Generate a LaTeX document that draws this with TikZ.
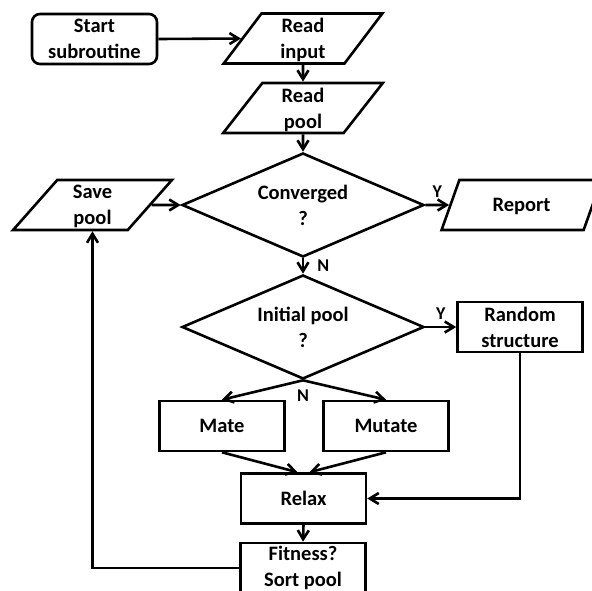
\documentclass[tikz,border=0pt]{standalone}
\usepackage{fontspec}
\setmainfont{Carlito}
\usepackage{tikz}
\usetikzlibrary{positioning,shapes.geometric,arrows.meta,calc}
\tikzset{
    base/.style={
        draw,
        line width=2.6pt,
        align=center,
        inner sep=0pt,
        font=\bfseries\fontsize{20.5}{26}\selectfont
    },
    block/.style={base, rectangle, minimum width=125pt, minimum height=50pt},
    startbox/.style={block, rounded corners=8pt},
    io/.style={
        base,
        trapezium,
        trapezium stretches=true,
        trapezium left angle=58,
        trapezium right angle=122,
        minimum width=160pt,
        minimum height=50pt,
        text depth=0pt
    },
    decision/.style={base, diamond, shape aspect=2.33, minimum width=242pt, minimum height=104pt, text depth=0pt},
    arrow/.style={line width=2.6pt, -{Straight Barb[length=9pt,width=11pt]}},
    lab/.style={font=\bfseries\fontsize{18}{20}\selectfont, inner sep=1pt}
}

\begin{document}
\begin{tikzpicture}[x=1pt, y=-1pt]
    \useasboundingbox (0,0) rectangle (592,590);

    % Nodi
    \node[startbox] (start) at (94.5,39) {Start\\subroutine};
    \node[io, trapezium left angle=63, trapezium right angle=117] (readin) at (303,38.5) {Read\\input};
    \node[io, trapezium left angle=63, trapezium right angle=117] (readpool) at (303,108) {Read\\pool};
    \node[decision] (conv) at (303,205) {Converged\\?};
    \node[io] (save) at (92.5,205) {Save\\pool};
    \node[io] (report) at (521.5,205) {Report};
    \node[decision] (init) at (303,327) {Initial pool\\?};
    \node[block] (random) at (520,327) {Random\\structure};
    \node[block] (mate) at (222,426) {Mate};
    \node[block] (mutate) at (386,426) {Mutate};
    \node[block] (relax) at (303.5,498.5) {Relax};
    \node[block] (fitness) at (303,568) {Fitness?\\Sort pool};

    % Frecce
    \draw[arrow] (start.east) -- (readin.west);
    \draw[arrow] (readin.south) -- (readpool.north);
    \draw[arrow] (readpool.south) -- (conv.north);
    \draw[arrow] (save.east) -- (conv.west);
    \draw[arrow] (conv.east) -- node[lab, above=5pt] {Y} (report.west);
    \draw[arrow] (conv.south) -- node[lab, right=12pt] {N} (init.north);
    \draw[arrow] (init.east) -- node[lab, above=5pt] {Y} (random.west);
    \draw[arrow] (init.south) -- node[lab, at start, below=7pt] {N} (mate.north);
    \draw[arrow] (init.south) -- (mutate.north);
    \draw[arrow] (mate.south) -- ([xshift=-6pt]relax.north);
    \draw[arrow] (mutate.south) -- ([xshift=6pt]relax.north);
    \draw[arrow] (random.south) |- (relax.east);
    \draw[arrow] (relax.south) -- (fitness.north);

    % Ritorno
    \draw[arrow] (fitness.west) -| (save.south);
\end{tikzpicture}
\end{document}
